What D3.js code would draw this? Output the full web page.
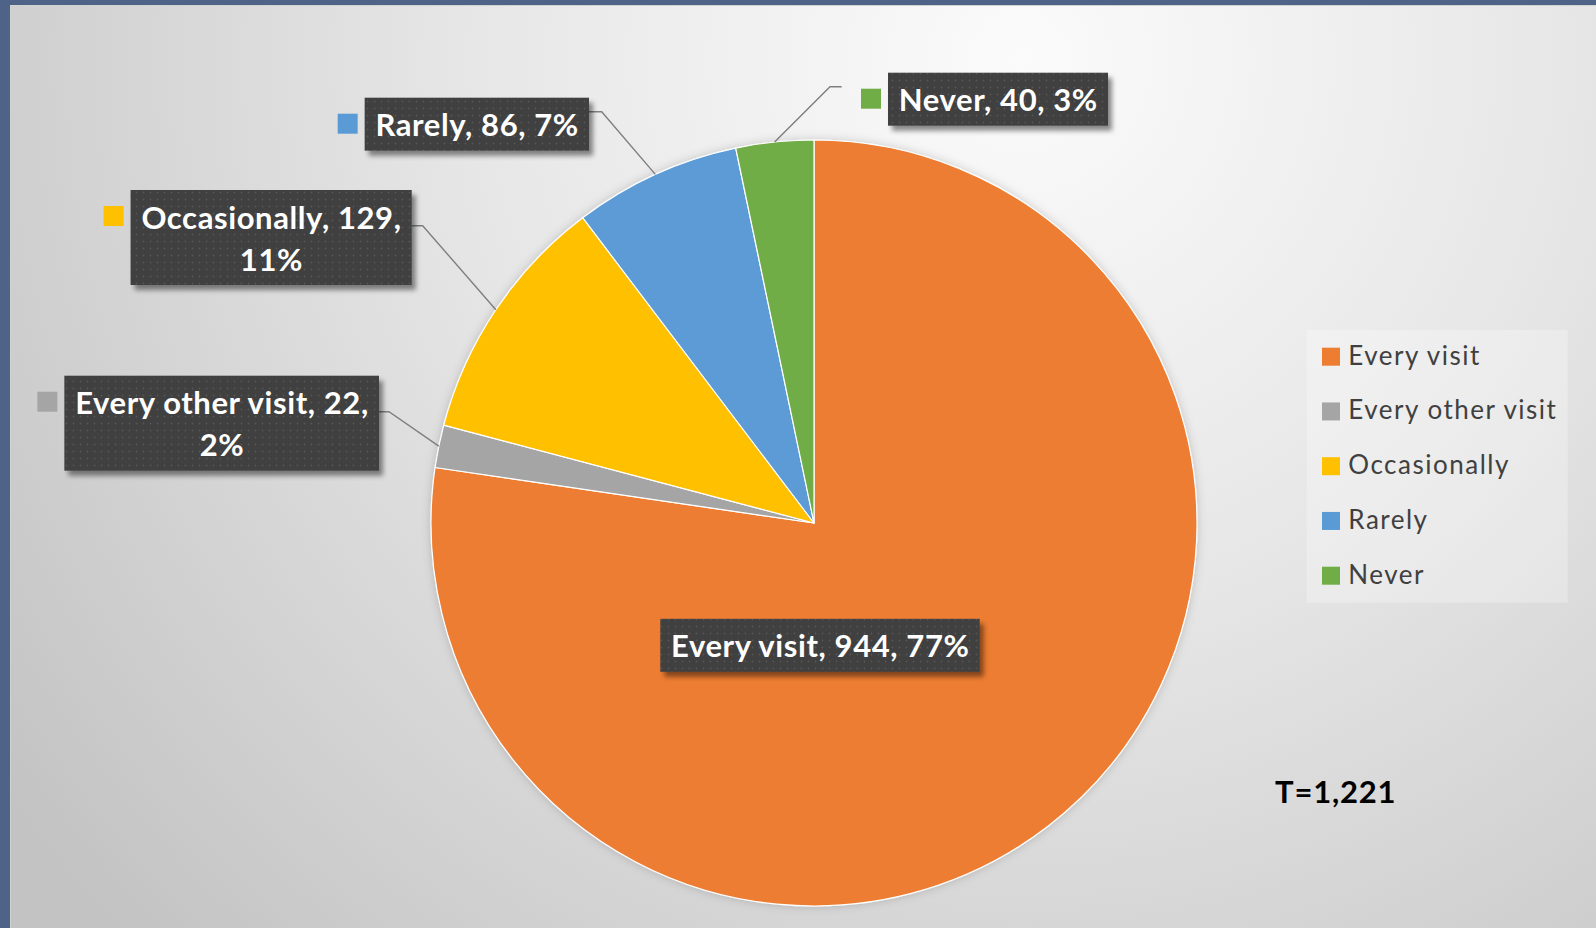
<!DOCTYPE html>
<html>
<head>
<meta charset="utf-8">
<script src="https://cdn.jsdelivr.net/npm/d3@7"></script>
<style>
  html, body { margin: 0; padding: 0; background: #4f6389; }
  svg { display: block; }
</style>
</head>
<body>
<svg id="chart" width="1596" height="928"></svg>
<script>
// Visit frequency responses
const categories = ["Every visit", "Every other visit", "Occasionally", "Rarely", "Never"];
const counts = [944, 22, 129, 86, 40];
const percents = ["77%", "2%", "11%", "7%", "3%"];
const sliceColors = ["#ED7D31", "#A5A5A5", "#FFC000", "#5B9BD5", "#70AD47"];
const totalText = "T=1,221";

// Label placement (layout only)
const labelLayout = [
  { inside: true, cx: 820, cy: 645.3, wrap: false },
  { side: "left",  edge: 379,   top: 375.7, elbow: [389, 411.7],   wrap: true },
  { side: "left",  edge: 411.7, top: 190,   elbow: [422.7, 225.7], wrap: true },
  { side: "left",  edge: 589,   top: 97.7,  elbow: [601.7, 111.7], wrap: false },
  { side: "right", edge: 888,   top: 72.7,  elbow: [830, 86.7], lineEnd: 841.7, wrap: false }
];

const W = 1596, H = 928;
const cx = 814, cy = 523, R = 383;
const FONT = "Lato, 'Open Sans', sans-serif";

const svg = d3.select("#chart");
const defs = svg.append("defs");

// background radial shading
const bg = defs.append("radialGradient")
  .attr("id", "bgGrad").attr("gradientUnits", "userSpaceOnUse")
  .attr("cx", 1020).attr("cy", 60).attr("r", 1250);
bg.append("stop").attr("offset", 0).attr("stop-color", "#fbfbfb");
bg.append("stop").attr("offset", 0.45).attr("stop-color", "#e6e6e6");
bg.append("stop").attr("offset", 1).attr("stop-color", "#c3c3c3");

// dotted dark fill for data labels
const pat = defs.append("pattern")
  .attr("id", "dots").attr("patternUnits", "userSpaceOnUse")
  .attr("width", 7).attr("height", 7);
pat.append("rect").attr("width", 7).attr("height", 7).attr("fill", "#3f3f3f");
pat.append("circle").attr("cx", 3.5).attr("cy", 3.5).attr("r", 0.9).attr("fill", "#575757");

const sh = defs.append("filter").attr("id", "boxShadow")
  .attr("x", "-10%").attr("y", "-20%").attr("width", "130%").attr("height", "160%");
sh.append("feDropShadow").attr("dx", 4).attr("dy", 5).attr("stdDeviation", 2.5)
  .attr("flood-color", "#000").attr("flood-opacity", 0.45);

const pieSh = defs.append("filter").attr("id", "pieShadow")
  .attr("x", "-10%").attr("y", "-10%").attr("width", "120%").attr("height", "120%");
pieSh.append("feDropShadow").attr("dx", 0).attr("dy", 0).attr("stdDeviation", 5)
  .attr("flood-color", "#000").attr("flood-opacity", 0.18);

// frame and background
svg.append("rect").attr("width", W).attr("height", H).attr("fill", "#4f6389");
svg.append("rect").attr("x", 10).attr("y", 5).attr("width", W - 10).attr("height", H - 5)
  .attr("fill", "#d2d2d2");
svg.append("rect").attr("x", 11).attr("y", 6).attr("width", W - 11).attr("height", H - 6)
  .attr("fill", "url(#bgGrad)");

// pie
const pie = d3.pie().sort(null).value(d => d).startAngle(0).endAngle(2 * Math.PI);
const arcs = pie(counts);
const arc = d3.arc().innerRadius(0).outerRadius(R);
const edgeArc = d3.arc().innerRadius(R).outerRadius(R);

const pieG = svg.append("g").attr("transform", `translate(${cx},${cy})`);
pieG.append("g").attr("filter", "url(#pieShadow)")
  .selectAll("path").data(arcs).join("path")
  .attr("d", arc)
  .attr("fill", (d, i) => sliceColors[i])
  .attr("stroke", "#ffffff")
  .attr("stroke-width", 1.2)
  .attr("stroke-linejoin", "round");

// leader lines
const leaderG = svg.append("g");
arcs.forEach((d, i) => {
  const L = labelLayout[i];
  if (L.inside) return;
  const p = edgeArc.centroid(d);
  const start = [cx + p[0], cy + p[1]];
  const end = L.side === "left" ? L.edge : L.lineEnd;
  leaderG.append("path")
    .attr("d", d3.line()([start, L.elbow, [end, L.elbow[1]]]))
    .attr("fill", "none")
    .attr("stroke", "#7f7f7f")
    .attr("stroke-width", 1.4);
});

// data labels
const labelG = svg.append("g");
const LINE = 42, PADX = 10.5, LS = 0.6;
arcs.forEach((d, i) => {
  const L = labelLayout[i];
  const lines = L.wrap
    ? [`${categories[i]}, ${counts[i]},`, percents[i]]
    : [`${categories[i]}, ${counts[i]}, ${percents[i]}`];
  const g = labelG.append("g");
  const box = g.append("rect").attr("fill", "url(#dots)").attr("filter", "url(#boxShadow)");
  const texts = lines.map(t => g.append("text")
    .attr("font-family", FONT).attr("font-weight", 700).attr("font-size", 31)
    .attr("letter-spacing", LS)
    .attr("fill", "#ffffff").attr("text-anchor", "middle").text(t));
  const tw = d3.max(texts, t => t.node().getComputedTextLength());
  const bw = tw + 2 * PADX;
  const bh = 11 + LINE * lines.length;
  let left, top;
  if (L.inside) { left = L.cx - bw / 2; top = L.cy - bh / 2; }
  else if (L.side === "left") { left = L.edge - bw; top = L.top; }
  else { left = L.edge; top = L.top; }
  box.attr("x", left).attr("y", top).attr("width", bw).attr("height", bh);
  texts.forEach((t, k) => t.attr("x", left + bw / 2 + LS / 2).attr("y", top + 38.5 + LINE * k));
  if (!L.inside) {
    g.append("rect")
      .attr("x", left - 27).attr("y", top + 16).attr("width", 20).attr("height", 20)
      .attr("fill", sliceColors[i]);
  }
});

// legend
const legend = svg.append("g");
legend.append("rect")
  .attr("x", 1306.7).attr("y", 330).attr("width", 261).attr("height", 272.7)
  .attr("fill", "#ffffff").attr("fill-opacity", 0.28);
const legendY = d3.scalePoint().domain(categories).range([356.7, 575.7]);
const items = legend.selectAll("g.item").data(categories).join("g")
  .attr("class", "item")
  .attr("transform", d => `translate(1322,${legendY(d)})`);
items.append("rect")
  .attr("x", 0).attr("y", -9).attr("width", 18).attr("height", 18)
  .attr("fill", (d, i) => sliceColors[i]);
items.append("text")
  .attr("x", 26.3).attr("y", 8)
  .attr("font-family", FONT).attr("font-size", 26)
  .attr("letter-spacing", 1.5)
  .attr("fill", "#404040")
  .text(d => d);

// total respondents
svg.append("text")
  .attr("x", 1275).attr("y", 803.3)
  .attr("font-family", FONT).attr("font-weight", 700).attr("font-size", 31)
  .attr("letter-spacing", 0.8)
  .attr("fill", "#000000")
  .text(totalText);
</script>
</body>
</html>
